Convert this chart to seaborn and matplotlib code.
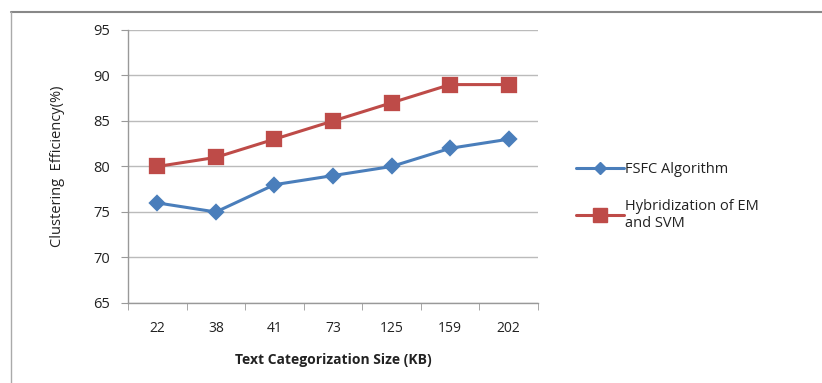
import matplotlib
matplotlib.use("Agg")
import matplotlib.pyplot as plt
from matplotlib.lines import Line2D
from matplotlib.colors import to_hex
import seaborn as sns
import pandas as pd

sizes = ["22", "38", "41", "73", "125", "159", "202"]
fsfc = [76, 75, 78, 79, 80, 82, 83]
hybrid = [80, 81, 83, 85, 87, 89, 89]
series_names = ["FSFC Algorithm", "Hybridization of EM\nand SVM"]
y_ticks = [65, 70, 75, 80, 85, 90, 95]

BLUE = "#4A7EBB"
RED = "#BE4B48"

df = pd.DataFrame({
    "size": sizes * 2,
    "eff": fsfc + hybrid,
    "series": [series_names[0]] * len(sizes) + [series_names[1]] * len(sizes),
})

sns.set_style("white")
plt.rcParams["font.family"] = ["Open Sans", "DejaVu Sans"]

fig = plt.figure(figsize=(8.22, 3.83), dpi=100)
ax = fig.add_axes([0.1557, 0.2089, 0.4988, 0.7128])

sns.pointplot(data=df, x="size", y="eff", hue="series", order=sizes,
              hue_order=series_names, palette=[BLUE, RED],
              markers=["D", "s"], linestyles=["-", "-"],
              markersize=7, linewidth=2.2, errorbar=None, ax=ax)

# per-series marker sizes (small diamond, larger square)
marker_size = {to_hex(BLUE): 7, to_hex(RED): 10}
for line in ax.lines:
    c = to_hex(line.get_color())
    if c in marker_size:
        line.set_markersize(marker_size[c])

ax.set_xlim(-0.5, len(sizes) - 0.5)
ax.set_ylim(65, 95)
ax.set_yticks(y_ticks)
ax.yaxis.grid(True, color="#BBBBBB", linewidth=1)
ax.set_axisbelow(True)

for s in ["top", "right"]:
    ax.spines[s].set_visible(False)
for s in ["left", "bottom"]:
    ax.spines[s].set_color("#999999")
    ax.spines[s].set_linewidth(1)

ax.set_xticks(range(len(sizes)))
ax.set_xticklabels(sizes)
ax.set_xticks([i - 0.5 for i in range(len(sizes) + 1)], minor=True)
ax.tick_params(axis="x", which="major", length=0, pad=13, labelsize=10, colors="#222222")
ax.tick_params(axis="x", which="minor", length=5, color="#999999", direction="out", bottom=True)
ax.tick_params(axis="y", length=5, color="#999999", direction="out", left=True,
               labelsize=10.5, pad=8, colors="#222222")

ax.set_xlabel("Text Categorization Size (KB)", fontsize=10, fontweight="bold",
              labelpad=12, color="#222222")
ax.set_ylabel("Clustering  Efficiency(%)", fontsize=10.5, fontweight="medium",
              labelpad=20, color="#222222")

handles = [
    Line2D([], [], color=BLUE, marker="D", markersize=6.5, linewidth=2.2),
    Line2D([], [], color=RED, marker="s", markersize=10, linewidth=2.2),
]
leg = ax.legend(handles=handles, labels=series_names, loc="upper left",
                bbox_to_anchor=(1.06, 0.565), frameon=False, fontsize=10.5,
                handlelength=3.3, handletextpad=0.1, labelspacing=1.5)
for t in leg.get_texts():
    t.set_color("#222222")

# outer chart frame (top and left edges)
fig.add_artist(Line2D([11 / 822, 1.0], [1 - 12 / 383] * 2, color="#888888", linewidth=1.5,
                      transform=fig.transFigure))
fig.add_artist(Line2D([11 / 822] * 2, [0, 1 - 12 / 383], color="#AAAAAA", linewidth=1,
                      transform=fig.transFigure))

fig.savefig("out.png", dpi=100)
